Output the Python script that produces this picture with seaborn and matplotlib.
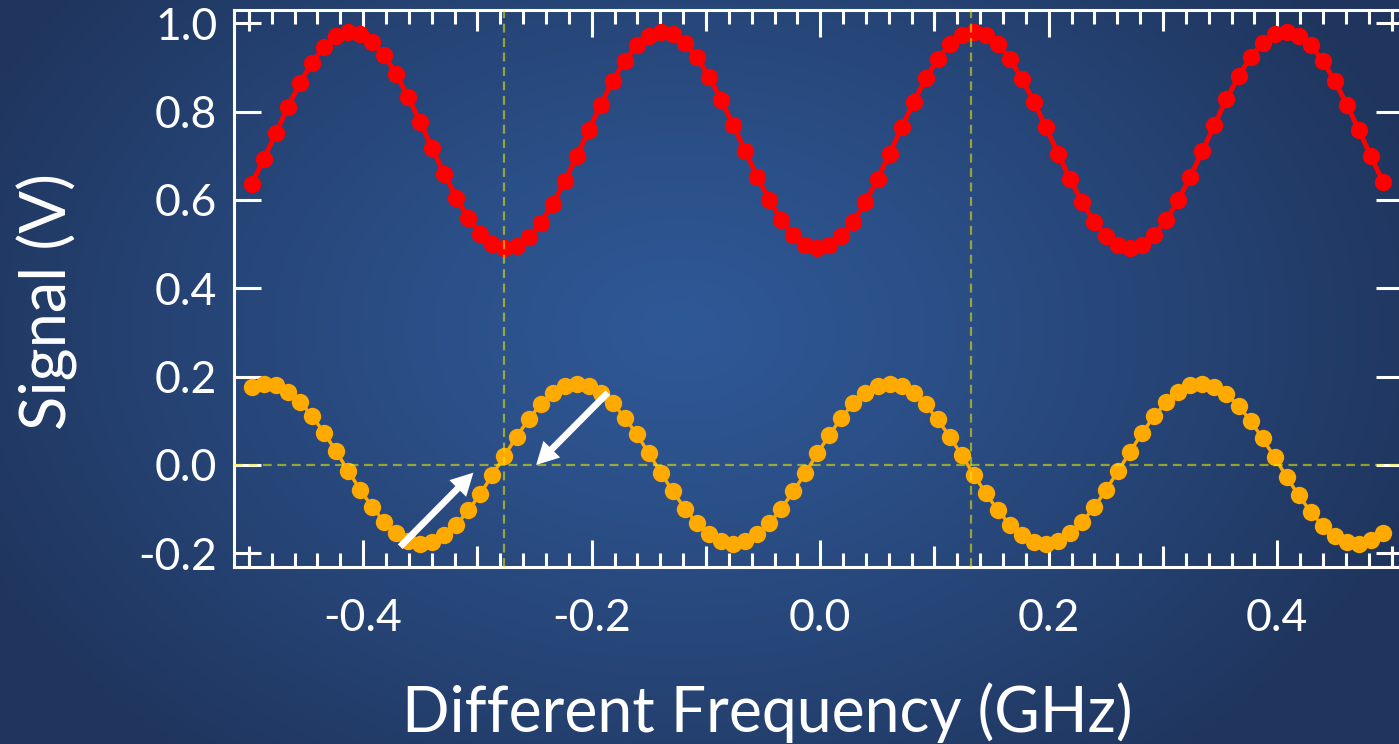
import numpy as np
import matplotlib
matplotlib.use("Agg")
import matplotlib.pyplot as plt
import seaborn as sns
from matplotlib.patches import FancyArrowPatch
from matplotlib.ticker import MultipleLocator, NullFormatter

# Frequency sweep (GHz)
freq = [-0.4974, -0.4869, -0.4763, -0.4658, -0.4553, -0.4448, -0.4342, -0.4237, -0.4132, -0.4026,
        -0.3921, -0.3816, -0.3710, -0.3605, -0.3500, -0.3395, -0.3289, -0.3184, -0.3079, -0.2973,
        -0.2868, -0.2763, -0.2657, -0.2552, -0.2447, -0.2342, -0.2236, -0.2131, -0.2026, -0.1920,
        -0.1815, -0.1710, -0.1604, -0.1499, -0.1394, -0.1289, -0.1183, -0.1078, -0.0973, -0.0867,
        -0.0762, -0.0657, -0.0551, -0.0446, -0.0341, -0.0236, -0.0130, -0.0025, 0.0080, 0.0186,
        0.0291, 0.0396, 0.0502, 0.0607, 0.0712, 0.0818, 0.0923, 0.1028, 0.1133, 0.1239,
        0.1344, 0.1449, 0.1555, 0.1660, 0.1765, 0.1871, 0.1976, 0.2081, 0.2186, 0.2292,
        0.2397, 0.2502, 0.2608, 0.2713, 0.2818, 0.2924, 0.3029, 0.3134, 0.3239, 0.3345,
        0.3450, 0.3555, 0.3661, 0.3766, 0.3871, 0.3977, 0.4082, 0.4187, 0.4292, 0.4398,
        0.4503, 0.4608, 0.4714, 0.4819, 0.4924]

# Transmission signal (V)
sig_dc = [0.636, 0.693, 0.752, 0.811, 0.864, 0.911, 0.947, 0.971, 0.981, 0.976,
          0.958, 0.927, 0.884, 0.833, 0.776, 0.717, 0.659, 0.605, 0.559, 0.524,
          0.500, 0.491, 0.496, 0.515, 0.547, 0.590, 0.642, 0.699, 0.758, 0.816,
          0.870, 0.915, 0.950, 0.972, 0.981, 0.975, 0.955, 0.923, 0.879, 0.827,
          0.770, 0.711, 0.653, 0.600, 0.555, 0.521, 0.499, 0.491, 0.498, 0.518,
          0.551, 0.595, 0.648, 0.705, 0.764, 0.822, 0.875, 0.919, 0.953, 0.974,
          0.981, 0.974, 0.953, 0.919, 0.874, 0.822, 0.764, 0.705, 0.647, 0.595,
          0.551, 0.518, 0.497, 0.491, 0.499, 0.521, 0.555, 0.600, 0.653, 0.711,
          0.770, 0.828, 0.880, 0.923, 0.956, 0.975, 0.981, 0.972, 0.950, 0.915,
          0.869, 0.816, 0.758, 0.699, 0.641]

# Error signal (V)
sig_err = [0.177, 0.184, 0.180, 0.166, 0.143, 0.111, 0.073, 0.031, -0.013, -0.056,
           -0.095, -0.129, -0.155, -0.172, -0.178, -0.174, -0.159, -0.135, -0.103, -0.065,
           -0.022, 0.021, 0.064, 0.103, 0.137, 0.162, 0.178, 0.184, 0.179, 0.164,
           0.140, 0.107, 0.069, 0.026, -0.018, -0.060, -0.099, -0.132, -0.157, -0.173,
           -0.178, -0.173, -0.157, -0.132, -0.099, -0.060, -0.018, 0.026, 0.068, 0.107,
           0.140, 0.164, 0.179, 0.184, 0.178, 0.162, 0.137, 0.103, 0.064, 0.022,
           -0.022, -0.064, -0.103, -0.135, -0.159, -0.174, -0.178, -0.172, -0.155, -0.129,
           -0.096, -0.056, -0.013, 0.030, 0.073, 0.111, 0.142, 0.166, 0.180, 0.184,
           0.177, 0.160, 0.134, 0.100, 0.060, 0.017, -0.027, -0.069, -0.106, -0.138,
           -0.161, -0.175, -0.178, -0.170, -0.153]

x_major = [-0.4, -0.2, 0.0, 0.2, 0.4]
x_major_labels = ["-0.4", "-0.2", "0.0", "0.2", "0.4"]
x_mid = [-0.5, -0.3, -0.1, 0.1, 0.3, 0.5]
y_major = [-0.2, 0.0, 0.2, 0.4, 0.6, 0.8, 1.0]
y_major_labels = ["-0.2", "0.0", "0.2", "0.4", "0.6", "0.8", "1.0"]
lock_freqs = [-0.2766, 0.1319]
zero_level = 0.0
arrows = [((-0.3676, -0.185), (-0.3035, -0.0174)),
          ((-0.1858, 0.1637), (-0.2486, 0.0))]

sns.set_style("ticks")
plt.rcParams['font.family'] = ['Lato', 'DejaVu Sans']
plt.rcParams['axes.unicode_minus'] = False

fig = plt.figure(figsize=(13.99, 7.44), dpi=100)
fig.patch.set_facecolor('#20365e')

# radial blue backdrop
bg = fig.add_axes([0, 0, 1, 1], zorder=-10)
H, W = 744, 1399
yy, xx = np.mgrid[0:H, 0:W]
r = np.sqrt(((xx - 680) / 780) ** 2 + ((yy - 330) / 560) ** 2)
t = np.clip(r, 0, 1) ** 1.2
c_in = np.array([47, 88, 150]) / 255
c_out = np.array([31, 53, 93]) / 255
img = c_in[None, None, :] * (1 - t[..., None]) + c_out[None, None, :] * t[..., None]
bg.imshow(img, aspect='auto', extent=[0, 1, 0, 1], interpolation='bilinear')
bg.axis('off')

ax = fig.add_axes([234 / 1399, 177 / 744, 1169 / 1399, 557 / 744])
ax.set_facecolor('none')

sns.lineplot(x=freq, y=sig_dc, ax=ax, color='#ff0000', linewidth=3.5, marker='o',
             markersize=12.5, markeredgewidth=0, zorder=3)
sns.lineplot(x=freq, y=sig_err, ax=ax, color='#ffaa00', linewidth=2.5, marker='o',
             markersize=12.5, markeredgewidth=0, zorder=3)

guide = dict(color='#f0f000', alpha=0.55, linewidth=1.6, dashes=(4, 2.5), zorder=4)
ax.axhline(zero_level, **guide)
for fx in lock_freqs:
    ax.axvline(fx, **guide)

for (x0, y0), (x1, y1) in arrows:
    ax.add_patch(FancyArrowPatch((x0, y0), (x1, y1),
                                 arrowstyle='simple,head_length=1.6,head_width=1.7,tail_width=0.48',
                                 mutation_scale=10, color='white', lw=0,
                                 shrinkA=0, shrinkB=0, zorder=5))

ax.set_xlim(-0.513, 0.510)
ax.set_ylim(-0.231, 1.030)
ax.set_xticks(x_major, labels=x_major_labels)
ax.set_yticks(y_major, labels=y_major_labels)
ax.xaxis.set_minor_locator(MultipleLocator(0.02))
ax.set_xlabel('')
ax.set_ylabel('')

for s in ax.spines.values():
    s.set_color('white')
    s.set_linewidth(2.2)

ax.tick_params(axis='both', which='both', direction='in', colors='white', width=2.2,
               top=True, right=True, labelsize=32)
ax.tick_params(axis='x', which='major', length=19.5, pad=22)
ax.tick_params(axis='x', which='minor', length=10)
ax.tick_params(axis='y', which='major', length=19.5, pad=12)

# intermediate 0.1 ticks on bottom and top edges
for loc in ('bottom', 'top'):
    sec = ax.secondary_xaxis(loc)
    sec.set_xticks(x_mid)
    sec.xaxis.set_major_formatter(NullFormatter())
    sec.tick_params(direction='in', length=15, width=2.2, color='white')
    sec.spines[loc].set_visible(False)

fig.text(767 / 1399, 1 - 713 / 744, 'Different Frequency (GHz)', color='white',
         fontsize=45, ha='center', va='center')
fig.text(47 / 1399, 1 - 301 / 744, 'Signal (V)', color='white', fontsize=45.5,
         rotation=90, ha='center', va='center')

fig.savefig('out.png', dpi=100, facecolor=fig.get_facecolor())
